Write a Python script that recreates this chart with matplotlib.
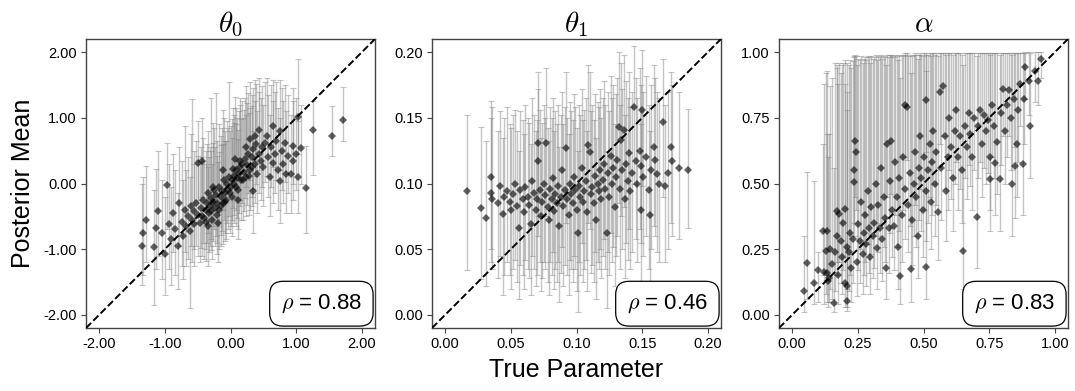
import matplotlib
matplotlib.use("Agg")
import matplotlib.pyplot as plt
from matplotlib.ticker import FormatStrFormatter

# ---- theta_0 -------------------------------------------------------------
T0_TRUE = [-1.35, -1.33, -1.28, -1.17, -1.14, -1.10, -1.05, -0.99, -0.96, -0.94,
           -0.90, -0.88, -0.84, -0.80, -0.78, -0.74, -0.72, -0.70, -0.68, -0.65,
           -0.62, -0.60, -0.58, -0.56, -0.55, -0.52, -0.50, -0.49, -0.47, -0.45,
           -0.43, -0.42, -0.40, -0.38, -0.36, -0.35, -0.33, -0.31, -0.30, -0.28,
           -0.26, -0.25, -0.23, -0.22, -0.20, -0.18, -0.17, -0.15, -0.13, -0.12,
           -0.10, -0.08, -0.07, -0.05, -0.04, -0.02, 0.00, 0.02, 0.03, 0.05,
           0.06, 0.08, 0.10, 0.11, 0.13, 0.15, 0.16, 0.18, 0.20, 0.22,
           0.23, 0.25, 0.27, 0.29, 0.30, 0.32, 0.34, 0.35, 0.37, 0.39,
           0.41, 0.43, 0.44, 0.46, 0.48, 0.50, 0.52, 0.55, 0.57, 0.60,
           0.62, 0.65, 0.65, 0.68, 0.70, 0.73, 0.75, 0.75, 0.78, 0.80,
           0.83, 0.85, 0.88, 0.92, 0.95, 0.95, 1.00, 1.03, 1.03, 1.08,
           1.15, 1.26, 1.54, 1.72, -0.44, -0.37, -0.29, -0.21, -0.14, -0.09,
           -0.01, 0.04, 0.09, 0.14, 0.19, 0.24, 0.28, 0.33, 0.38, -0.34,
           -0.27, -0.19, -0.11, 0.07, 0.12]
T0_MEAN = [-0.95, -0.76, -0.55, -0.97, -0.68, -0.42, -0.75, -1.08, -0.02, -0.62,
           -0.85, -0.45, -0.70, -0.95, -0.30, -0.58, -0.80, -0.40, -0.65, -0.50,
           -0.72, -0.35, -0.55, -0.62, -0.42, -0.30, -0.48, 0.31, -0.60, -0.38,
           0.34, -0.25, -0.52, -0.40, -0.30, -0.15, -0.45, -0.35, -0.22, -0.55,
           -0.28, -0.10, -0.38, -0.18, -0.30, -0.05, -0.40, -0.20, -0.12, -0.30,
           0.05, -0.15, -0.25, 0.00, -0.10, 0.10, -0.05, 0.05, -0.20, 0.12,
           0.00, 0.20, 0.08, -0.10, 0.15, 0.25, 0.05, 0.30, 0.18, 0.38,
           0.10, 0.28, 0.45, 0.67, 0.20, 0.40, -0.12, 0.52, 0.30, 0.60,
           0.15, 0.45, 0.82, 0.35, 0.55, 0.25, 0.62, 0.72, 0.40, 0.10,
           0.55, 0.87, 0.31, 0.45, 0.65, 0.20, 0.80, 0.04, 0.50, 0.30,
           0.62, 0.15, 0.42, 0.15, 0.57, 0.34, 0.45, 1.02, 0.10, 0.54,
           -0.07, 0.81, 0.73, 0.97, -0.50, -0.58, -0.42, -0.48, -0.35, -0.28,
           -0.15, 0.22, -0.05, 0.35, 0.05, 0.55, 0.12, 0.25, 0.72, -0.65,
           -0.05, -0.60, 0.20, 0.38, -0.25]
T0_LO = [-1.54, -1.40, -1.20, -1.85, -1.30, -1.10, -1.45, -1.70, -0.70, -1.30,
         -1.55, -1.05, -1.40, -1.60, -0.95, -1.25, -1.45, -1.05, -1.25, -1.15,
         -1.90, -0.95, -1.20, -1.25, -1.00, -0.95, -1.10, -0.25, -1.20, -0.98,
         -0.20, -0.90, -1.15, -1.00, -0.90, -0.75, -1.05, -0.95, -0.85, -1.15,
         -0.88, -0.70, -0.95, -0.80, -0.90, -0.65, -1.00, -0.78, -0.72, -0.92,
         -0.55, -0.75, -0.85, -0.60, -0.70, -0.50, -0.65, -0.55, -0.80, -0.48,
         -0.60, -0.40, -0.52, -0.70, -0.45, -0.35, -0.55, -0.30, -0.42, -0.22,
         -0.50, -0.32, -0.15, 0.05, -0.40, -0.20, -0.75, -0.08, -0.30, 0.00,
         -0.45, -0.15, 0.20, -0.25, -0.05, -0.35, 0.02, 0.12, -0.20, -0.50,
         -0.05, 0.25, -0.30, -0.15, 0.05, -0.40, 0.20, -0.60, -0.10, -0.30,
         0.02, -0.45, -0.15, -0.45, 0.00, -0.25, -0.10, 0.45, -0.45, 0.00,
         -0.75, 0.13, 0.42, 0.65, -1.10, -1.18, -1.02, -1.08, -0.95, -0.88,
         -0.75, -0.38, -0.65, -0.25, -0.55, -0.05, -0.48, -0.35, 0.12, -1.25,
         -0.65, -1.20, -0.40, -0.22, -0.85]
T0_HI = [0.00, 0.10, 0.27, -0.10, 0.22, 0.49, 0.05, -0.20, 0.62, 0.30,
         -0.05, 0.45, 0.20, -0.15, 0.55, 0.35, 0.05, 0.88, 0.20, 0.40,
         0.10, 0.75, 1.29, 0.30, 0.50, 0.65, 0.42, 0.95, 0.30, 0.55,
         1.00, 0.70, 0.35, 0.50, 0.60, 0.80, 0.40, 0.55, 1.30, 0.30,
         0.62, 0.85, 0.55, 1.38, 0.65, 0.90, 0.48, 0.72, 0.85, 0.60,
         1.00, 0.80, 0.65, 0.95, 0.85, 1.55, 0.88, 0.98, 0.70, 1.05,
         0.92, 1.15, 1.00, 0.82, 1.10, 1.20, 0.98, 1.25, 1.12, 1.30,
         1.05, 1.22, 1.38, 1.55, 1.15, 1.35, 0.80, 1.45, 1.25, 1.52,
         1.10, 1.40, 1.60, 1.30, 1.48, 1.20, 1.55, 1.60, 1.35, 1.05,
         1.50, 1.58, 1.25, 1.40, 1.55, 1.15, 1.58, 1.00, 1.45, 1.25,
         1.50, 1.10, 1.35, 1.05, 1.45, 1.25, 1.30, 1.90, 0.95, 1.20,
         0.57, 1.25, 1.18, 1.47, 0.40, 0.30, 0.50, 0.42, 0.58, 0.65,
         0.80, 1.15, 0.90, 1.30, 1.00, 1.48, 1.08, 1.18, 1.58, 0.25,
         0.92, 0.32, 1.12, 1.32, 0.68]

# ---- theta_1 -------------------------------------------------------------
T1_TRUE = [0.017, 0.027, 0.031, 0.035, 0.035, 0.036, 0.040, 0.042, 0.044, 0.045,
           0.047, 0.049, 0.050, 0.052, 0.053, 0.055, 0.056, 0.057, 0.059, 0.060,
           0.061, 0.063, 0.064, 0.065, 0.066, 0.068, 0.069, 0.070, 0.071, 0.071,
           0.072, 0.073, 0.074, 0.075, 0.076, 0.077, 0.078, 0.079, 0.080, 0.081,
           0.082, 0.083, 0.084, 0.085, 0.086, 0.087, 0.088, 0.089, 0.090, 0.091,
           0.092, 0.093, 0.094, 0.095, 0.096, 0.097, 0.098, 0.099, 0.100, 0.101,
           0.102, 0.103, 0.104, 0.105, 0.106, 0.107, 0.108, 0.109, 0.110, 0.111,
           0.112, 0.113, 0.114, 0.115, 0.116, 0.117, 0.118, 0.119, 0.120, 0.121,
           0.122, 0.123, 0.124, 0.125, 0.126, 0.127, 0.128, 0.129, 0.130, 0.131,
           0.132, 0.133, 0.134, 0.135, 0.136, 0.137, 0.138, 0.139, 0.140, 0.141,
           0.142, 0.144, 0.145, 0.146, 0.148, 0.149, 0.149, 0.150, 0.151, 0.153,
           0.155, 0.156, 0.157, 0.159, 0.160, 0.161, 0.163, 0.166, 0.167, 0.170,
           0.172, 0.173, 0.178, 0.185]
T1_MEAN = [0.094, 0.081, 0.074, 0.105, 0.093, 0.088, 0.085, 0.098, 0.077, 0.090,
           0.094, 0.086, 0.080, 0.092, 0.100, 0.083, 0.066, 0.095, 0.088, 0.078,
           0.097, 0.090, 0.084, 0.069, 0.102, 0.093, 0.080, 0.088, 0.131, 0.117,
           0.095, 0.075, 0.086, 0.100, 0.091, 0.131, 0.082, 0.072, 0.096, 0.088,
           0.104, 0.079, 0.092, 0.085, 0.098, 0.068, 0.090, 0.110, 0.083, 0.095,
           0.127, 0.088, 0.076, 0.100, 0.092, 0.085, 0.105, 0.095, 0.080, 0.062,
           0.098, 0.090, 0.112, 0.086, 0.094, 0.102, 0.078, 0.129, 0.124, 0.092,
           0.097, 0.085, 0.106, 0.072, 0.100, 0.094, 0.110, 0.088, 0.103, 0.115,
           0.096, 0.062, 0.108, 0.090, 0.121, 0.100, 0.112, 0.082, 0.105, 0.118,
           0.143, 0.096, 0.133, 0.110, 0.141, 0.088, 0.115, 0.102, 0.123, 0.094,
           0.108, 0.158, 0.117, 0.100, 0.125, 0.113, 0.080, 0.156, 0.105, 0.120,
           0.095, 0.076, 0.110, 0.128, 0.118, 0.107, 0.100, 0.147, 0.098, 0.108,
           0.128, 0.117, 0.112, 0.110]
T1_LO = [0.034, 0.027, 0.022, 0.050, 0.040, 0.035, 0.028, 0.045, 0.015, 0.030,
         0.040, 0.030, 0.020, 0.035, 0.042, 0.025, 0.012, 0.038, 0.030, 0.020,
         0.042, 0.035, 0.028, 0.015, 0.045, 0.035, 0.022, 0.030, 0.075, 0.060,
         0.040, 0.018, 0.028, 0.040, 0.035, 0.075, 0.025, 0.015, 0.040, 0.030,
         0.048, 0.020, 0.035, 0.025, 0.040, 0.010, 0.032, 0.052, 0.022, 0.038,
         0.070, 0.030, 0.015, 0.042, 0.035, 0.025, 0.045, 0.035, 0.018, 0.002,
         0.040, 0.030, 0.055, 0.025, 0.035, 0.042, 0.018, 0.070, 0.065, 0.032,
         0.038, 0.025, 0.048, 0.012, 0.040, 0.035, 0.050, 0.028, 0.045, 0.058,
         0.035, 0.005, 0.048, 0.030, 0.062, 0.040, 0.052, 0.022, 0.045, 0.060,
         0.085, 0.035, 0.075, 0.050, 0.082, 0.028, 0.055, 0.042, 0.065, 0.035,
         0.048, 0.100, 0.058, 0.040, 0.065, 0.055, 0.020, 0.098, 0.045, 0.060,
         0.035, 0.018, 0.050, 0.068, 0.060, 0.048, 0.040, 0.090, 0.040, 0.050,
         0.070, 0.060, 0.058, 0.066]
T1_HI = [0.152, 0.143, 0.132, 0.163, 0.150, 0.158, 0.140, 0.155, 0.135, 0.150,
         0.158, 0.145, 0.142, 0.152, 0.156, 0.140, 0.125, 0.155, 0.148, 0.138,
         0.160, 0.150, 0.146, 0.130, 0.165, 0.152, 0.140, 0.148, 0.185, 0.172,
         0.156, 0.135, 0.146, 0.160, 0.150, 0.188, 0.142, 0.132, 0.158, 0.150,
         0.165, 0.140, 0.155, 0.145, 0.160, 0.128, 0.152, 0.170, 0.145, 0.158,
         0.185, 0.150, 0.138, 0.162, 0.155, 0.148, 0.168, 0.158, 0.142, 0.125,
         0.160, 0.152, 0.172, 0.148, 0.156, 0.165, 0.140, 0.190, 0.185, 0.155,
         0.160, 0.148, 0.168, 0.135, 0.162, 0.158, 0.172, 0.150, 0.165, 0.178,
         0.160, 0.125, 0.170, 0.155, 0.182, 0.165, 0.175, 0.145, 0.168, 0.180,
         0.200, 0.160, 0.192, 0.172, 0.198, 0.152, 0.178, 0.165, 0.185, 0.158,
         0.170, 0.205, 0.180, 0.165, 0.188, 0.175, 0.145, 0.202, 0.170, 0.182,
         0.160, 0.140, 0.175, 0.190, 0.180, 0.170, 0.165, 0.195, 0.160, 0.170,
         0.185, 0.175, 0.170, 0.157]

# ---- alpha ---------------------------------------------------------------
A_TRUE = [0.044, 0.057, 0.082, 0.100, 0.118, 0.120, 0.127, 0.131, 0.133, 0.138,
          0.140, 0.145, 0.150, 0.160, 0.165, 0.169, 0.172, 0.175, 0.180, 0.185,
          0.190, 0.195, 0.200, 0.203, 0.207, 0.207, 0.210, 0.215, 0.220, 0.225,
          0.230, 0.235, 0.237, 0.239, 0.244, 0.248, 0.252, 0.258, 0.262, 0.268,
          0.272, 0.278, 0.283, 0.288, 0.292, 0.297, 0.302, 0.307, 0.312, 0.318,
          0.322, 0.328, 0.333, 0.338, 0.342, 0.348, 0.353, 0.358, 0.362, 0.367,
          0.372, 0.378, 0.382, 0.388, 0.392, 0.398, 0.403, 0.408, 0.412, 0.418,
          0.422, 0.428, 0.431, 0.437, 0.442, 0.447, 0.453, 0.458, 0.462, 0.468,
          0.472, 0.478, 0.482, 0.488, 0.492, 0.498, 0.503, 0.508, 0.511, 0.511,
          0.518, 0.523, 0.528, 0.533, 0.538, 0.543, 0.548, 0.556, 0.562, 0.568,
          0.575, 0.580, 0.585, 0.592, 0.598, 0.605, 0.612, 0.618, 0.625, 0.632,
          0.638, 0.645, 0.651, 0.658, 0.665, 0.672, 0.678, 0.685, 0.692, 0.702,
          0.708, 0.715, 0.722, 0.730, 0.738, 0.745, 0.753, 0.755, 0.762, 0.768,
          0.774, 0.780, 0.790, 0.795, 0.803, 0.810, 0.818, 0.825, 0.832, 0.837,
          0.843, 0.848, 0.854, 0.860, 0.869, 0.878, 0.882, 0.888, 0.901, 0.904,
          0.923, 0.935, 0.949]
A_MEAN = [0.091, 0.197, 0.123, 0.170, 0.318, 0.165, 0.244, 0.161, 0.320, 0.130,
          0.142, 0.250, 0.195, 0.045, 0.240, 0.396, 0.300, 0.150, 0.385, 0.280,
          0.220, 0.350, 0.120, 0.403, 0.053, 0.111, 0.260, 0.240, 0.310, 0.180,
          0.290, 0.550, 0.504, 0.663, 0.619, 0.200, 0.345, 0.280, 0.430, 0.230,
          0.310, 0.380, 0.270, 0.470, 0.330, 0.220, 0.410, 0.300, 0.350, 0.500,
          0.255, 0.420, 0.330, 0.560, 0.290, 0.450, 0.370, 0.180, 0.650, 0.330,
          0.510, 0.663, 0.400, 0.340, 0.580, 0.450, 0.260, 0.520, 0.149, 0.380,
          0.600, 0.480, 0.797, 0.790, 0.420, 0.540, 0.174, 0.360, 0.500, 0.620,
          0.450, 0.300, 0.560, 0.680, 0.520, 0.400, 0.600, 0.470, 0.816, 0.184,
          0.550, 0.650, 0.430, 0.580, 0.700, 0.500, 0.620, 0.390, 0.850, 0.560,
          0.873, 0.680, 0.470, 0.600, 0.750, 0.640, 0.520, 0.700, 0.780, 0.600,
          0.680, 0.550, 0.244, 0.720, 0.640, 0.770, 0.690, 0.600, 0.750, 0.371,
          0.720, 0.780, 0.650, 0.760, 0.700, 0.740, 0.602, 0.517, 0.800, 0.720,
          0.578, 0.659, 0.519, 0.770, 0.860, 0.700, 0.800, 0.854, 0.750, 0.500,
          0.820, 0.565, 0.651, 0.780, 0.879, 0.574, 0.822, 0.943, 0.892, 0.718,
          0.930, 0.892, 0.975]
A_LO = [0.010, 0.060, 0.040, 0.050, 0.150, 0.040, 0.080, 0.050, 0.150, 0.030,
        0.050, 0.100, 0.060, 0.010, 0.090, 0.200, 0.150, 0.040, 0.200, 0.120,
        0.080, 0.170, 0.030, 0.220, 0.015, 0.030, 0.100, 0.090, 0.150, 0.050,
        0.120, 0.350, 0.300, 0.450, 0.400, 0.070, 0.170, 0.120, 0.250, 0.080,
        0.150, 0.200, 0.110, 0.270, 0.160, 0.080, 0.230, 0.140, 0.180, 0.300,
        0.100, 0.240, 0.160, 0.350, 0.130, 0.260, 0.200, 0.060, 0.450, 0.160,
        0.310, 0.460, 0.220, 0.170, 0.380, 0.260, 0.100, 0.320, 0.040, 0.200,
        0.400, 0.290, 0.600, 0.590, 0.240, 0.340, 0.050, 0.190, 0.300, 0.420,
        0.260, 0.140, 0.360, 0.480, 0.320, 0.220, 0.400, 0.280, 0.620, 0.060,
        0.350, 0.450, 0.250, 0.380, 0.500, 0.300, 0.420, 0.210, 0.650, 0.360,
        0.680, 0.480, 0.280, 0.400, 0.550, 0.440, 0.320, 0.500, 0.580, 0.400,
        0.480, 0.350, 0.100, 0.520, 0.440, 0.570, 0.490, 0.400, 0.550, 0.180,
        0.520, 0.580, 0.450, 0.560, 0.500, 0.540, 0.400, 0.320, 0.600, 0.520,
        0.380, 0.460, 0.320, 0.570, 0.680, 0.500, 0.600, 0.680, 0.550, 0.300,
        0.640, 0.370, 0.450, 0.580, 0.720, 0.380, 0.650, 0.820, 0.760, 0.520,
        0.810, 0.800, 0.900]
A_HI = [0.300, 0.545, 0.510, 0.240, 0.650, 0.880, 0.920, 0.690, 0.930, 0.600,
        0.690, 0.870, 0.900, 0.560, 0.960, 0.940, 0.950, 0.880, 0.960, 0.920,
        0.950, 0.960, 0.880, 0.970, 0.780, 0.850, 0.960, 0.950, 0.970, 0.940,
        0.965, 0.985, 0.980, 0.990, 0.985, 0.950, 0.975, 0.970, 0.985, 0.960,
        0.975, 0.980, 0.970, 0.985, 0.980, 0.960, 0.985, 0.975, 0.980, 0.990,
        0.970, 0.985, 0.980, 0.990, 0.975, 0.985, 0.980, 0.950, 0.990, 0.980,
        0.990, 0.990, 0.985, 0.980, 0.990, 0.985, 0.970, 0.990, 0.900, 0.985,
        0.990, 0.990, 0.995, 0.995, 0.985, 0.990, 0.920, 0.985, 0.990, 0.995,
        0.990, 0.975, 0.990, 0.995, 0.990, 0.985, 0.995, 0.990, 0.995, 0.930,
        0.990, 0.995, 0.985, 0.995, 0.995, 0.990, 0.995, 0.985, 0.998, 0.995,
        0.998, 0.995, 0.990, 0.995, 0.998, 0.995, 0.990, 0.995, 0.998, 0.995,
        0.995, 0.990, 0.950, 0.998, 0.995, 0.998, 0.995, 0.995, 0.998, 0.985,
        0.998, 0.998, 0.995, 0.998, 0.995, 0.998, 0.995, 0.990, 0.998, 0.995,
        0.995, 0.995, 0.990, 0.998, 0.998, 0.995, 0.998, 0.998, 0.998, 0.990,
        0.998, 0.995, 0.995, 0.998, 0.998, 0.995, 0.998, 0.999, 0.999, 0.995,
        0.999, 0.999, 0.999]

TITLES = [r"$\theta_0$", r"$\theta_1$", r"$\alpha$"]
RHO = ["0.88", "0.46", "0.83"]
LIMS = [(-2.2, 2.2), (-0.01, 0.21), (-0.05, 1.05)]
TICKS = [[-2, -1, 0, 1, 2], [0, 0.05, 0.10, 0.15, 0.20], [0, 0.25, 0.5, 0.75, 1.0]]

plt.rcParams["font.family"] = ["Liberation Sans", "DejaVu Sans"]
plt.rcParams["mathtext.fontset"] = "cm"

fig = plt.figure(figsize=(10.75, 3.91), dpi=100)
lefts = [86, 432, 779]
panels = [(T0_TRUE, T0_MEAN, T0_LO, T0_HI),
          (T1_TRUE, T1_MEAN, T1_LO, T1_HI),
          (A_TRUE, A_MEAN, A_LO, A_HI)]

axes = []
for i, (xs, ys, lo, hi) in enumerate(panels):
    ax = fig.add_axes([lefts[i] / 1075, 1 - 328 / 391, 289 / 1075, 289 / 391])
    axes.append(ax)
    yerr = [[y - l for y, l in zip(ys, lo)], [h - y for y, h in zip(ys, hi)]]
    ax.errorbar(xs, ys, yerr=yerr, fmt="none", ecolor="gray", elinewidth=1.0,
                capsize=2, capthick=0.8, alpha=0.45, zorder=1)
    ax.plot(xs, ys, "D", color="black", ms=4, mew=0, alpha=0.62, zorder=2)
    lo_lim, hi_lim = LIMS[i]
    ax.plot([lo_lim, hi_lim], [lo_lim, hi_lim], color="black", ls="--", lw=1.4,
            zorder=3)
    ax.set_xlim(lo_lim, hi_lim)
    ax.set_ylim(lo_lim, hi_lim)
    ax.set_xticks(TICKS[i])
    ax.set_yticks(TICKS[i])
    ax.xaxis.set_major_formatter(FormatStrFormatter("%.2f"))
    ax.yaxis.set_major_formatter(FormatStrFormatter("%.2f"))
    ax.tick_params(labelsize=10.5, length=3.5, width=0.8, color="#444444",
                   pad=3)
    for sp in ax.spines.values():
        sp.set_color("#444444")
        sp.set_linewidth(1.0)
    ax.set_title(TITLES[i], fontsize=21, pad=5)
    ax.text(0.955, 0.045, r"$\rho$ = " + RHO[i], transform=ax.transAxes,
            ha="right", va="bottom", fontsize=16,
            bbox=dict(boxstyle="round,pad=0.5,rounding_size=0.6", fc="white",
                      ec="black", lw=0.9))

axes[0].set_ylabel("Posterior Mean", fontsize=18, labelpad=6)
axes[1].set_xlabel("True Parameter", fontsize=18, labelpad=5)

fig.savefig("out.png", dpi=100)
